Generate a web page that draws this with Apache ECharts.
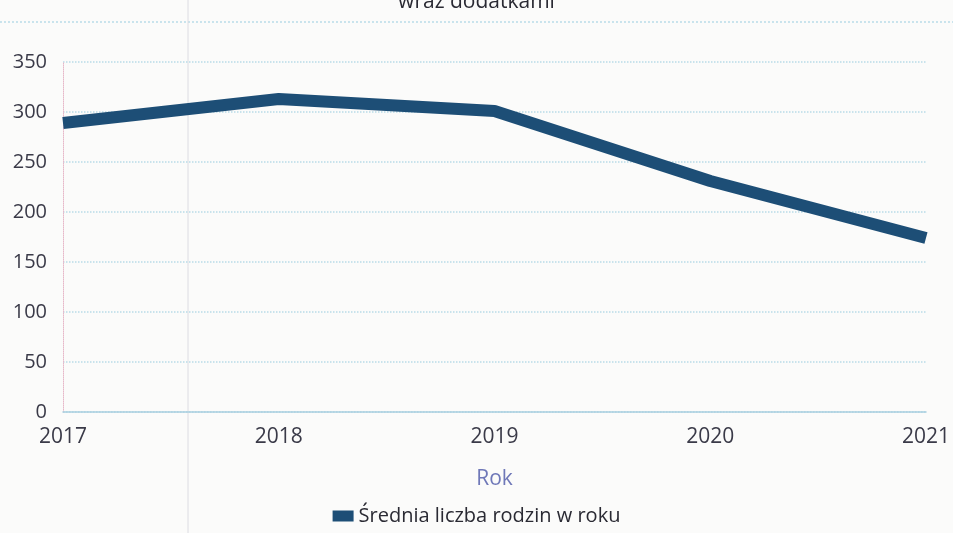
<!DOCTYPE html>
<html lang="pl">
  <head>
    <meta charset="utf-8" />
    <title>Średnia liczba rodzin w roku</title>
    <script src="https://cdn.jsdelivr.net/npm/echarts@6/dist/echarts.min.js"></script>
    <style>
      html, body { margin: 0; padding: 0; background: #fbfbfa; }
      #main { width: 953px; height: 533px; }
    </style>
  </head>
  <body>
    <div id="main"></div>
  </body>
  <script>
    // dane
    let years = ['2017', '2018', '2019', '2020', '2021'];
    let families = [289, 313, 301, 231, 174];
    let yTicks = { min: 0, max: 350, step: 50 };

    let chart = echarts.init(document.getElementById('main'));
    let font = '"Open Sans", "Noto Sans", sans-serif';

    let option = {
        backgroundColor: '#fbfbfa',
        title: {
            text: 'wraz dodatkami',
            left: 'center',
            top: -13,
            textStyle: { fontFamily: font, fontSize: 21, fontWeight: 'normal', color: '#2a2a33' }
        },
        graphic: [
            // kropkowana linia pod tytułem
            { type: 'line', shape: { x1: 0, y1: 22, x2: 953, y2: 22 },
              style: { stroke: '#b9dce8', lineWidth: 1.5, lineDash: [2, 2] } },
            // zagięcie kartki
            { type: 'line', shape: { x1: 188, y1: 0, x2: 188, y2: 533 },
              style: { stroke: '#dcdce2', lineWidth: 1 } }
        ],
        legend: {
            data: ['Średnia liczba rodzin w roku'],
            bottom: 2,
            left: 'center',
            icon: 'rect',
            itemWidth: 21,
            itemHeight: 11,
            itemGap: 6,
            textStyle: { fontFamily: font, fontSize: 20, color: '#2a2a33' }
        },
        grid: { left: 63, right: 25, top: 62, bottom: 121 },
        xAxis: {
            type: 'category',
            data: years,
            boundaryGap: false,
            name: 'Rok',
            nameLocation: 'middle',
            nameGap: 57,
            nameTextStyle: { fontFamily: font, fontSize: 21, color: '#6f78b8' },
            axisLine: { lineStyle: { color: '#a9cfe0', width: 1.5 } },
            axisTick: { show: false },
            axisLabel: { fontFamily: font, fontSize: 21, color: '#3a3a48', margin: 15 }
        },
        yAxis: {
            type: 'value',
            min: yTicks.min,
            max: yTicks.max,
            interval: yTicks.step,
            axisLine: { show: true, lineStyle: { color: '#e6b8c8', type: 'dotted', width: 1 } },
            axisTick: { show: false },
            axisLabel: { fontFamily: font, fontSize: 20, color: '#3a3a48', margin: 16 },
            splitLine: { lineStyle: { color: '#b9dce8', type: 'dotted', width: 1.5 } }
        },
        series: [{
            name: 'Średnia liczba rodzin w roku',
            type: 'line',
            data: families,
            symbol: 'none',
            lineStyle: { color: '#1d4e76', width: 12, join: 'round' },
            itemStyle: { color: '#1d4e76' }
        }]
    };
    chart.setOption(option);
  </script>
</html>
